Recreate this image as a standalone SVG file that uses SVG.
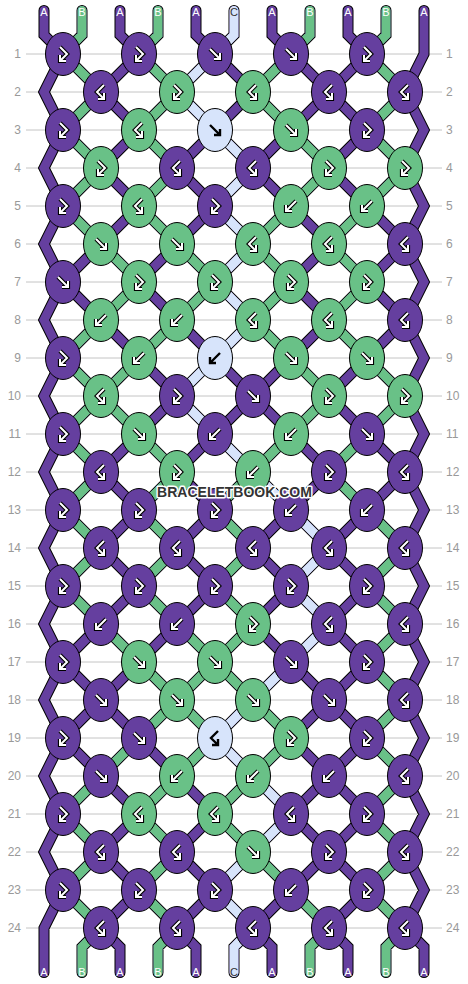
<svg xmlns="http://www.w3.org/2000/svg" xmlns:xlink="http://www.w3.org/1999/xlink" width="468" height="984" viewBox="0 0 468 984">
<style>
.rl{stroke:#c4c4c4;stroke-width:1}
.num{font-family:"Liberation Sans",Arial,sans-serif;font-size:12px;fill:#999}
.ne{text-anchor:end}
.ko{fill:none;stroke:#000;stroke-width:11;stroke-linecap:round;stroke-linejoin:miter}
.sP{fill:none;stroke:#653f9f;stroke-width:9;stroke-linecap:round;stroke-linejoin:miter}
.sG{fill:none;stroke:#69c187;stroke-width:9;stroke-linecap:round;stroke-linejoin:miter}
.sL{fill:none;stroke:#d7e4fb;stroke-width:9;stroke-linecap:round;stroke-linejoin:miter}
.P{fill:#653f9f;stroke:#000;stroke-width:1}
.G{fill:#69c187;stroke:#000;stroke-width:1}
.L{fill:#d7e4fb;stroke:#000;stroke-width:1}
.ao{fill:none;stroke:#000;stroke-width:4.2}
.ai{fill:none;stroke:#fff;stroke-width:2}
.ab{fill:none;stroke:#000;stroke-width:2.4}
.lab{font-family:"Liberation Sans",Arial,sans-serif;font-size:11px;text-anchor:middle;fill:#fff}
.lc{fill:#333}
.wm{font-family:"Liberation Sans",Arial,sans-serif;font-weight:bold;font-size:14px;text-anchor:middle;fill:#333;stroke:#fff;stroke-width:3;paint-order:stroke;stroke-linejoin:round}
</style>
<defs>
<ellipse id="e" rx="17.5" ry="21.5"/>
<path id="pF" d="M-5,-5L5,5M5,-1V5H-1"/>
<path id="pB" d="M5,-5L-5,5M-5,-1V5H1"/>
<path id="pFB" d="M-3,-7L4,0L-3,7M-3,1V7H3"/>
<path id="pBF" d="M3,-7L-4,0L3,7M3,1V7H-3"/>
<g id="aF"><use href="#pF" class="ao"/><use href="#pF" class="ai"/></g>
<g id="aB"><use href="#pB" class="ao"/><use href="#pB" class="ai"/></g>
<g id="aFB"><use href="#pFB" class="ao"/><use href="#pFB" class="ai"/></g>
<g id="aBF"><use href="#pBF" class="ao"/><use href="#pBF" class="ai"/></g>
<path id="lat" d="M367,54L405,92M291,54L405,168M215,54L405,244M139,54L405,320M63,54L405,396M63,130L405,472M63,206L405,548M63,282L405,624M63,358L405,700M63,434L405,776M63,510L405,852M63,586L405,928M63,662L329,928M63,738L253,928M63,814L177,928M63,890L101,928M139,54L63,130M215,54L63,206M291,54L63,282M367,54L63,358M405,92L63,434M405,168L63,510M405,244L63,586M405,320L63,662M405,396L63,738M405,472L63,814M405,548L63,890M405,624L101,928M405,700L177,928M405,776L253,928M405,852L329,928"/>
<path id="edg" d="M44,10.5V35L63,54L44,92L63,130L44,168L63,206L44,244L63,282L44,320L63,358L44,396L63,434L44,472L63,510L44,548L63,586L44,624L63,662L44,700L63,738L44,776L63,814L44,852L63,890L44,928V972.5M424,10.5V54L405,92L424,130L405,168L424,206L405,244L424,282L405,320L424,358L405,396L424,434L405,472L424,510L405,548L424,586L405,624L424,662L405,700L424,738L405,776L424,814L405,852L424,890L405,928L424,947V972.5M82,10.5V35L63,54M120,10.5V35L139,54M158,10.5V35L139,54M196,10.5V35L215,54M234,10.5V35L215,54M272,10.5V35L291,54M310,10.5V35L291,54M348,10.5V35L367,54M386,10.5V35L367,54M101,928L82,947V972.5M101,928L120,947V972.5M177,928L158,947V972.5M177,928L196,947V972.5M253,928L234,947V972.5M253,928L272,947V972.5M329,928L310,947V972.5M329,928L348,947V972.5M405,928L386,947V972.5"/>
</defs>
<g id="grid">
<line class="rl" x1="26" y1="54" x2="442" y2="54"/><line class="rl" x1="26" y1="92" x2="442" y2="92"/><line class="rl" x1="26" y1="130" x2="442" y2="130"/><line class="rl" x1="26" y1="168" x2="442" y2="168"/><line class="rl" x1="26" y1="206" x2="442" y2="206"/><line class="rl" x1="26" y1="244" x2="442" y2="244"/><line class="rl" x1="26" y1="282" x2="442" y2="282"/><line class="rl" x1="26" y1="320" x2="442" y2="320"/><line class="rl" x1="26" y1="358" x2="442" y2="358"/><line class="rl" x1="26" y1="396" x2="442" y2="396"/><line class="rl" x1="26" y1="434" x2="442" y2="434"/><line class="rl" x1="26" y1="472" x2="442" y2="472"/><line class="rl" x1="26" y1="510" x2="442" y2="510"/><line class="rl" x1="26" y1="548" x2="442" y2="548"/><line class="rl" x1="26" y1="586" x2="442" y2="586"/><line class="rl" x1="26" y1="624" x2="442" y2="624"/><line class="rl" x1="26" y1="662" x2="442" y2="662"/><line class="rl" x1="26" y1="700" x2="442" y2="700"/><line class="rl" x1="26" y1="738" x2="442" y2="738"/><line class="rl" x1="26" y1="776" x2="442" y2="776"/><line class="rl" x1="26" y1="814" x2="442" y2="814"/><line class="rl" x1="26" y1="852" x2="442" y2="852"/><line class="rl" x1="26" y1="890" x2="442" y2="890"/><line class="rl" x1="26" y1="928" x2="442" y2="928"/>
<text class="num ne" x="21" y="58.3">1</text><text class="num ne" x="21" y="96.3">2</text><text class="num ne" x="21" y="134.3">3</text><text class="num ne" x="21" y="172.3">4</text><text class="num ne" x="21" y="210.3">5</text><text class="num ne" x="21" y="248.3">6</text><text class="num ne" x="21" y="286.3">7</text><text class="num ne" x="21" y="324.3">8</text><text class="num ne" x="21" y="362.3">9</text><text class="num ne" x="21" y="400.3">10</text><text class="num ne" x="21" y="438.3">11</text><text class="num ne" x="21" y="476.3">12</text><text class="num ne" x="21" y="514.3">13</text><text class="num ne" x="21" y="552.3">14</text><text class="num ne" x="21" y="590.3">15</text><text class="num ne" x="21" y="628.3">16</text><text class="num ne" x="21" y="666.3">17</text><text class="num ne" x="21" y="704.3">18</text><text class="num ne" x="21" y="742.3">19</text><text class="num ne" x="21" y="780.3">20</text><text class="num ne" x="21" y="818.3">21</text><text class="num ne" x="21" y="856.3">22</text><text class="num ne" x="21" y="894.3">23</text><text class="num ne" x="21" y="932.3">24</text>
<text class="num" x="446" y="58.3">1</text><text class="num" x="446" y="96.3">2</text><text class="num" x="446" y="134.3">3</text><text class="num" x="446" y="172.3">4</text><text class="num" x="446" y="210.3">5</text><text class="num" x="446" y="248.3">6</text><text class="num" x="446" y="286.3">7</text><text class="num" x="446" y="324.3">8</text><text class="num" x="446" y="362.3">9</text><text class="num" x="446" y="400.3">10</text><text class="num" x="446" y="438.3">11</text><text class="num" x="446" y="476.3">12</text><text class="num" x="446" y="514.3">13</text><text class="num" x="446" y="552.3">14</text><text class="num" x="446" y="590.3">15</text><text class="num" x="446" y="628.3">16</text><text class="num" x="446" y="666.3">17</text><text class="num" x="446" y="704.3">18</text><text class="num" x="446" y="742.3">19</text><text class="num" x="446" y="780.3">20</text><text class="num" x="446" y="818.3">21</text><text class="num" x="446" y="856.3">22</text><text class="num" x="446" y="894.3">23</text><text class="num" x="446" y="932.3">24</text>
</g>
<g id="connectors">
<use href="#lat" class="ko"/><use href="#edg" class="ko"/>
<use href="#lat" class="sP"/><use href="#edg" class="sP"/>
<path class="sG" d="M63,54l38,38M139,54l38,38M291,54l-38,38M367,54l38,38M101,92l-38,38M177,92l-38,38M253,92l38,38M405,92l-38,38M63,130l38,38M139,130l38,38M291,130l38,38M367,130l38,38M101,168l-38,38M177,168l-38,38M329,168l-38,38M405,168l-38,38M63,206l38,38M139,206l38,38M291,206l-38,38M367,206l-38,38M101,244l38,38M177,244l38,38M253,244l38,38M329,244l38,38M139,282l-38,38M215,282l-38,38M291,282l-38,38M367,282l-38,38M101,320l-38,38M177,320l-38,38M253,320l38,38M329,320l38,38M63,358l38,38M139,358l-38,38M291,358l38,38M367,358l38,38M101,396l-38,38M101,396l38,38M329,396l-38,38M405,396l-38,38M63,434l38,38M139,434l38,38M291,434l-38,38M367,434l-38,38M101,472l-38,38M177,472l-38,38M253,472l-38,38M329,472l38,38M63,510l38,38M139,510l38,38M215,510l38,38M367,510l38,38M101,548l-38,38M177,548l-38,38M253,548l-38,38M405,548l-38,38M63,586l38,38M139,586l38,38M215,586l38,38M367,586l38,38M101,624l38,38M177,624l38,38M253,624l-38,38M405,624l-38,38M139,662l38,38M215,662l-38,38M215,662l38,38M367,662l38,38M177,700l-38,38M177,700l38,38M253,700l38,38M405,700l-38,38M139,738l-38,38M215,738l-38,38M291,738l-38,38M367,738l38,38M101,776l-38,38M177,776l-38,38M253,776l-38,38M405,776l-38,38M63,814l38,38M139,814l38,38M215,814l38,38M367,814l38,38M101,852l-38,38M177,852l-38,38M253,852l38,38M405,852l-38,38M63,890l38,38M139,890l38,38M291,890l38,38M367,890l38,38M82,10.5V35L63,54M158,10.5V35L139,54M310,10.5V35L291,54M386,10.5V35L367,54M101,928L82,947V972.5M177,928L158,947V972.5M329,928L310,947V972.5M405,928L386,947V972.5"/>
<path class="sL" d="M234,10.5V35L215,54l-38,38l38,38l38,38l-38,38l38,38l-38,38l38,38l-38,38l-38,38l38,38l38,38l38,38l38,38l-38,38l38,38l-38,38l-38,38l-38,38l38,38l38,38l-38,38l-38,38l38,38L234,947V972.5"/>
</g>
<g id="labels">
<text class="lab" x="44" y="16">A</text><text class="lab" x="82" y="16">B</text><text class="lab" x="120" y="16">A</text><text class="lab" x="158" y="16">B</text><text class="lab" x="196" y="16">A</text><text class="lab lc" x="234" y="16">C</text><text class="lab" x="272" y="16">A</text><text class="lab" x="310" y="16">B</text><text class="lab" x="348" y="16">A</text><text class="lab" x="386" y="16">B</text><text class="lab" x="424" y="16">A</text>
<text class="lab" x="44" y="976">A</text><text class="lab" x="82" y="976">B</text><text class="lab" x="120" y="976">A</text><text class="lab" x="158" y="976">B</text><text class="lab" x="196" y="976">A</text><text class="lab lc" x="234" y="976">C</text><text class="lab" x="272" y="976">A</text><text class="lab" x="310" y="976">B</text><text class="lab" x="348" y="976">A</text><text class="lab" x="386" y="976">B</text><text class="lab" x="424" y="976">A</text>
</g>
<g id="knots">
<g id="n1-1" transform="translate(63,54)"><use href="#e" class="P"/><use href="#aFB"/></g>
<g id="n1-2" transform="translate(139,54)"><use href="#e" class="P"/><use href="#aFB"/></g>
<g id="n1-3" transform="translate(215,54)"><use href="#e" class="P"/><use href="#aF"/></g>
<g id="n1-4" transform="translate(291,54)"><use href="#e" class="P"/><use href="#aF"/></g>
<g id="n1-5" transform="translate(367,54)"><use href="#e" class="P"/><use href="#aFB"/></g>
<g id="n2-1" transform="translate(101,92)"><use href="#e" class="P"/><use href="#aBF"/></g>
<g id="n2-2" transform="translate(177,92)"><use href="#e" class="G"/><use href="#aFB"/></g>
<g id="n2-3" transform="translate(253,92)"><use href="#e" class="G"/><use href="#aBF"/></g>
<g id="n2-4" transform="translate(329,92)"><use href="#e" class="P"/><use href="#aBF"/></g>
<g id="n2-5" transform="translate(405,92)"><use href="#e" class="P"/><use href="#aBF"/></g>
<g id="n3-1" transform="translate(63,130)"><use href="#e" class="P"/><use href="#aFB"/></g>
<g id="n3-2" transform="translate(139,130)"><use href="#e" class="G"/><use href="#aBF"/></g>
<g id="n3-3" transform="translate(215,130)"><use href="#e" class="L"/><use href="#pF" class="ab"/></g>
<g id="n3-4" transform="translate(291,130)"><use href="#e" class="G"/><use href="#aF"/></g>
<g id="n3-5" transform="translate(367,130)"><use href="#e" class="P"/><use href="#aFB"/></g>
<g id="n4-1" transform="translate(101,168)"><use href="#e" class="G"/><use href="#aFB"/></g>
<g id="n4-2" transform="translate(177,168)"><use href="#e" class="P"/><use href="#aBF"/></g>
<g id="n4-3" transform="translate(253,168)"><use href="#e" class="P"/><use href="#aBF"/></g>
<g id="n4-4" transform="translate(329,168)"><use href="#e" class="G"/><use href="#aFB"/></g>
<g id="n4-5" transform="translate(405,168)"><use href="#e" class="G"/><use href="#aFB"/></g>
<g id="n5-1" transform="translate(63,206)"><use href="#e" class="P"/><use href="#aFB"/></g>
<g id="n5-2" transform="translate(139,206)"><use href="#e" class="G"/><use href="#aBF"/></g>
<g id="n5-3" transform="translate(215,206)"><use href="#e" class="P"/><use href="#aFB"/></g>
<g id="n5-4" transform="translate(291,206)"><use href="#e" class="G"/><use href="#aB"/></g>
<g id="n5-5" transform="translate(367,206)"><use href="#e" class="G"/><use href="#aB"/></g>
<g id="n6-1" transform="translate(101,244)"><use href="#e" class="G"/><use href="#aF"/></g>
<g id="n6-2" transform="translate(177,244)"><use href="#e" class="G"/><use href="#aF"/></g>
<g id="n6-3" transform="translate(253,244)"><use href="#e" class="G"/><use href="#aBF"/></g>
<g id="n6-4" transform="translate(329,244)"><use href="#e" class="G"/><use href="#aBF"/></g>
<g id="n6-5" transform="translate(405,244)"><use href="#e" class="P"/><use href="#aBF"/></g>
<g id="n7-1" transform="translate(63,282)"><use href="#e" class="P"/><use href="#aF"/></g>
<g id="n7-2" transform="translate(139,282)"><use href="#e" class="G"/><use href="#aFB"/></g>
<g id="n7-3" transform="translate(215,282)"><use href="#e" class="G"/><use href="#aFB"/></g>
<g id="n7-4" transform="translate(291,282)"><use href="#e" class="G"/><use href="#aFB"/></g>
<g id="n7-5" transform="translate(367,282)"><use href="#e" class="G"/><use href="#aFB"/></g>
<g id="n8-1" transform="translate(101,320)"><use href="#e" class="G"/><use href="#aB"/></g>
<g id="n8-2" transform="translate(177,320)"><use href="#e" class="G"/><use href="#aB"/></g>
<g id="n8-3" transform="translate(253,320)"><use href="#e" class="G"/><use href="#aBF"/></g>
<g id="n8-4" transform="translate(329,320)"><use href="#e" class="G"/><use href="#aBF"/></g>
<g id="n8-5" transform="translate(405,320)"><use href="#e" class="P"/><use href="#aBF"/></g>
<g id="n9-1" transform="translate(63,358)"><use href="#e" class="P"/><use href="#aFB"/></g>
<g id="n9-2" transform="translate(139,358)"><use href="#e" class="G"/><use href="#aB"/></g>
<g id="n9-3" transform="translate(215,358)"><use href="#e" class="L"/><use href="#pB" class="ab"/></g>
<g id="n9-4" transform="translate(291,358)"><use href="#e" class="G"/><use href="#aF"/></g>
<g id="n9-5" transform="translate(367,358)"><use href="#e" class="G"/><use href="#aF"/></g>
<g id="n10-1" transform="translate(101,396)"><use href="#e" class="G"/><use href="#aBF"/></g>
<g id="n10-2" transform="translate(177,396)"><use href="#e" class="P"/><use href="#aFB"/></g>
<g id="n10-3" transform="translate(253,396)"><use href="#e" class="P"/><use href="#aF"/></g>
<g id="n10-4" transform="translate(329,396)"><use href="#e" class="G"/><use href="#aFB"/></g>
<g id="n10-5" transform="translate(405,396)"><use href="#e" class="G"/><use href="#aFB"/></g>
<g id="n11-1" transform="translate(63,434)"><use href="#e" class="P"/><use href="#aFB"/></g>
<g id="n11-2" transform="translate(139,434)"><use href="#e" class="G"/><use href="#aF"/></g>
<g id="n11-3" transform="translate(215,434)"><use href="#e" class="P"/><use href="#aB"/></g>
<g id="n11-4" transform="translate(291,434)"><use href="#e" class="G"/><use href="#aB"/></g>
<g id="n11-5" transform="translate(367,434)"><use href="#e" class="P"/><use href="#aF"/></g>
<g id="n12-1" transform="translate(101,472)"><use href="#e" class="P"/><use href="#aBF"/></g>
<g id="n12-2" transform="translate(177,472)"><use href="#e" class="G"/><use href="#aFB"/></g>
<g id="n12-3" transform="translate(253,472)"><use href="#e" class="G"/><use href="#aB"/></g>
<g id="n12-4" transform="translate(329,472)"><use href="#e" class="P"/><use href="#aFB"/></g>
<g id="n12-5" transform="translate(405,472)"><use href="#e" class="P"/><use href="#aBF"/></g>
<g id="n13-1" transform="translate(63,510)"><use href="#e" class="P"/><use href="#aFB"/></g>
<g id="n13-2" transform="translate(139,510)"><use href="#e" class="P"/><use href="#aFB"/></g>
<g id="n13-3" transform="translate(215,510)"><use href="#e" class="P"/><use href="#aFB"/></g>
<g id="n13-4" transform="translate(291,510)"><use href="#e" class="P"/><use href="#aB"/></g>
<g id="n13-5" transform="translate(367,510)"><use href="#e" class="P"/><use href="#aB"/></g>
<g id="n14-1" transform="translate(101,548)"><use href="#e" class="P"/><use href="#aBF"/></g>
<g id="n14-2" transform="translate(177,548)"><use href="#e" class="P"/><use href="#aBF"/></g>
<g id="n14-3" transform="translate(253,548)"><use href="#e" class="P"/><use href="#aBF"/></g>
<g id="n14-4" transform="translate(329,548)"><use href="#e" class="P"/><use href="#aBF"/></g>
<g id="n14-5" transform="translate(405,548)"><use href="#e" class="P"/><use href="#aBF"/></g>
<g id="n15-1" transform="translate(63,586)"><use href="#e" class="P"/><use href="#aFB"/></g>
<g id="n15-2" transform="translate(139,586)"><use href="#e" class="P"/><use href="#aFB"/></g>
<g id="n15-3" transform="translate(215,586)"><use href="#e" class="P"/><use href="#aFB"/></g>
<g id="n15-4" transform="translate(291,586)"><use href="#e" class="P"/><use href="#aFB"/></g>
<g id="n15-5" transform="translate(367,586)"><use href="#e" class="P"/><use href="#aFB"/></g>
<g id="n16-1" transform="translate(101,624)"><use href="#e" class="P"/><use href="#aB"/></g>
<g id="n16-2" transform="translate(177,624)"><use href="#e" class="P"/><use href="#aB"/></g>
<g id="n16-3" transform="translate(253,624)"><use href="#e" class="G"/><use href="#aFB"/></g>
<g id="n16-4" transform="translate(329,624)"><use href="#e" class="P"/><use href="#aBF"/></g>
<g id="n16-5" transform="translate(405,624)"><use href="#e" class="P"/><use href="#aBF"/></g>
<g id="n17-1" transform="translate(63,662)"><use href="#e" class="P"/><use href="#aFB"/></g>
<g id="n17-2" transform="translate(139,662)"><use href="#e" class="G"/><use href="#aF"/></g>
<g id="n17-3" transform="translate(215,662)"><use href="#e" class="G"/><use href="#aF"/></g>
<g id="n17-4" transform="translate(291,662)"><use href="#e" class="P"/><use href="#aF"/></g>
<g id="n17-5" transform="translate(367,662)"><use href="#e" class="P"/><use href="#aFB"/></g>
<g id="n18-1" transform="translate(101,700)"><use href="#e" class="P"/><use href="#aF"/></g>
<g id="n18-2" transform="translate(177,700)"><use href="#e" class="G"/><use href="#aF"/></g>
<g id="n18-3" transform="translate(253,700)"><use href="#e" class="G"/><use href="#aF"/></g>
<g id="n18-4" transform="translate(329,700)"><use href="#e" class="P"/><use href="#aF"/></g>
<g id="n18-5" transform="translate(405,700)"><use href="#e" class="P"/><use href="#aBF"/></g>
<g id="n19-1" transform="translate(63,738)"><use href="#e" class="P"/><use href="#aFB"/></g>
<g id="n19-2" transform="translate(139,738)"><use href="#e" class="P"/><use href="#aF"/></g>
<g id="n19-3" transform="translate(215,738)"><use href="#e" class="L"/><use href="#pBF" class="ab"/></g>
<g id="n19-4" transform="translate(291,738)"><use href="#e" class="G"/><use href="#aFB"/></g>
<g id="n19-5" transform="translate(367,738)"><use href="#e" class="P"/><use href="#aFB"/></g>
<g id="n20-1" transform="translate(101,776)"><use href="#e" class="P"/><use href="#aF"/></g>
<g id="n20-2" transform="translate(177,776)"><use href="#e" class="G"/><use href="#aB"/></g>
<g id="n20-3" transform="translate(253,776)"><use href="#e" class="G"/><use href="#aB"/></g>
<g id="n20-4" transform="translate(329,776)"><use href="#e" class="P"/><use href="#aB"/></g>
<g id="n20-5" transform="translate(405,776)"><use href="#e" class="P"/><use href="#aBF"/></g>
<g id="n21-1" transform="translate(63,814)"><use href="#e" class="P"/><use href="#aFB"/></g>
<g id="n21-2" transform="translate(139,814)"><use href="#e" class="G"/><use href="#aBF"/></g>
<g id="n21-3" transform="translate(215,814)"><use href="#e" class="G"/><use href="#aBF"/></g>
<g id="n21-4" transform="translate(291,814)"><use href="#e" class="P"/><use href="#aBF"/></g>
<g id="n21-5" transform="translate(367,814)"><use href="#e" class="P"/><use href="#aFB"/></g>
<g id="n22-1" transform="translate(101,852)"><use href="#e" class="P"/><use href="#aBF"/></g>
<g id="n22-2" transform="translate(177,852)"><use href="#e" class="P"/><use href="#aBF"/></g>
<g id="n22-3" transform="translate(253,852)"><use href="#e" class="G"/><use href="#aF"/></g>
<g id="n22-4" transform="translate(329,852)"><use href="#e" class="P"/><use href="#aFB"/></g>
<g id="n22-5" transform="translate(405,852)"><use href="#e" class="P"/><use href="#aBF"/></g>
<g id="n23-1" transform="translate(63,890)"><use href="#e" class="P"/><use href="#aFB"/></g>
<g id="n23-2" transform="translate(139,890)"><use href="#e" class="P"/><use href="#aFB"/></g>
<g id="n23-3" transform="translate(215,890)"><use href="#e" class="P"/><use href="#aFB"/></g>
<g id="n23-4" transform="translate(291,890)"><use href="#e" class="P"/><use href="#aB"/></g>
<g id="n23-5" transform="translate(367,890)"><use href="#e" class="P"/><use href="#aFB"/></g>
<g id="n24-1" transform="translate(101,928)"><use href="#e" class="P"/><use href="#aBF"/></g>
<g id="n24-2" transform="translate(177,928)"><use href="#e" class="P"/><use href="#aBF"/></g>
<g id="n24-3" transform="translate(253,928)"><use href="#e" class="P"/><use href="#aBF"/></g>
<g id="n24-4" transform="translate(329,928)"><use href="#e" class="P"/><use href="#aBF"/></g>
<g id="n24-5" transform="translate(405,928)"><use href="#e" class="P"/><use href="#aBF"/></g>
</g>
<text class="wm" x="234.5" y="497">BRACELETBOOK.COM</text>
</svg>
